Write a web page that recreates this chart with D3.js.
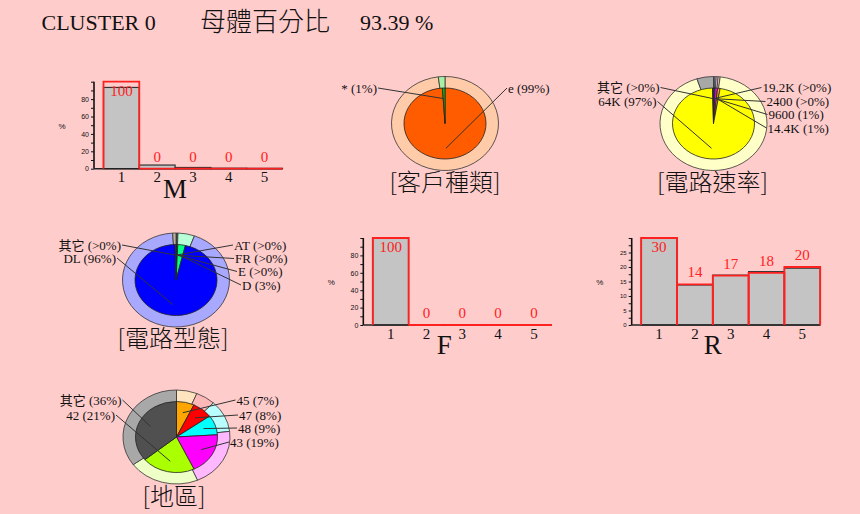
<!DOCTYPE html>
<html><head><meta charset="utf-8">
<script src="https://cdn.jsdelivr.net/npm/d3@7"></script>
<style>
body{margin:0;background:#FFCCCC;}
svg{display:block}
</style>
</head><body>
<svg id="c" width="860" height="514"></svg>
<script>
// ---------------- DATA ----------------
const titleParts = ["CLUSTER 0", "母體百分比", "93.39 %"];

const barCategories = ["1", "2", "3", "4", "5"];
const mCluster = [100, 0, 0, 0, 0];
const mParent  = [93.4, 4.2, 1.4, 0.6, 0.4];
const fCluster = [100, 0, 0, 0, 0];
const fParent  = [100, 0, 0, 0, 0];
const rCluster = [30, 14, 17, 18, 20];
const rParent  = [30, 13.8, 17.2, 18.4, 19.6];
const pctTicks = [0, 20, 40, 60, 80];
const pctMinor = [10, 30, 50, 70, 90, 100];
const rTicks = [0, 5, 10, 15, 20, 25];
const rMinor = [2.5, 7.5, 12.5, 17.5, 22.5, 27.5, 30];

const custCats    = ["e", "*"];
const custCluster = [99, 1];
const custParent  = [98, 2];

const speedCats    = ["19.2K", "2400", "9600", "14.4K", "64K", "其它"];
const speedCluster = [0.3, 0.3, 1, 1, 97, 0.4];
const speedParent  = [0.4, 0.4, 0.6, 0.6, 93, 5];

const typeCats    = ["AT", "FR", "E", "D", "DL", "其它"];
const typeCluster = [0.2, 0.2, 0.3, 3, 96, 0.3];
const typeParent  = [0.2, 0.2, 0.2, 5, 93.4, 1];

const areaCats    = ["45", "47", "48", "43", "42", "其它"];
const areaCluster = [7, 8, 9, 19, 21, 36];
const areaParent  = [6.2, 5.9, 11, 20.5, 21.4, 35];

// ---------------- STYLE / LAYOUT ----------------
const SERIF = "'Liberation Serif','Times New Roman','Noto Sans CJK TC',serif";
const CJK = "'Noto Sans CJK TC','Noto Sans CJK SC',sans-serif";
const RED = "#FF2020";

const custStyle  = {inner: ["#FF5C00", "#00C800"], outer: ["#FFCBA8", "#A8F0A8"]};
const speedStyle = {inner: ["#FF0000", "#00FFFF", "#FF00FF", "#FFA000", "#FFFF00", "#808080"],
                    outer: ["#FFB8B8", "#B8FFFF", "#FFB8FF", "#FFE0B0", "#FFFFC8", "#A8A8A8"]};
const typeStyle  = {inner: ["#FFA000", "#FF0000", "#00FFFF", "#00FF80", "#0000FF", "#907050"],
                    outer: ["#FFE0B0", "#FFB8B8", "#B8FFFF", "#B8FFD8", "#A8A8FF", "#C0B0A0"]};
const areaStyle  = {inner: ["#FFA500", "#FF0000", "#00FFFF", "#FF00FF", "#AAFF00", "#505050"],
                    outer: ["#FFE4C0", "#FFB8B8", "#B8FFFF", "#FFB8FF", "#EEFFC8", "#A8A8A8"]};

// label offsets relative to the pie centre (one per slice, same order)
const custLabelPos  = [[63, -35.5], [-68, -35.5]];
const speedLabelPos = [[49, -36], [53, -22], [55, -9], [54, 4.5], [-57, -22], [-54, -36]];
const typeLabelPos  = [[58, -35], [59, -21.5], [62, -8.5], [66, 5], [-60, -22], [-55, -35]];
const areaLabelPos  = [[60, -37], [62.5, -22], [61.5, -9], [53.5, 5], [-61.5, -22], [-55, -37]];

const svg = d3.select("#c");
svg.append("rect").attr("x", 0).attr("y", 0).attr("width", 860).attr("height", 514).attr("fill", "#FFCCCC");

// ---------------- TITLE ----------------
svg.append("text").attr("x", 41.5).attr("y", 29.5).attr("font-family", SERIF).attr("font-size", 22)
  .attr("fill", "#111").text(titleParts[0]);
svg.append("text").attr("x", 200).attr("y", 30.5).attr("font-family", CJK).attr("font-size", 26)
  .attr("font-weight", 300).attr("fill", "#111").text(titleParts[1]);
svg.append("text").attr("x", 360).attr("y", 29.5).attr("font-family", SERIF).attr("font-size", 22)
  .attr("fill", "#111").text(titleParts[2]);

// ---------------- BAR CHARTS ----------------
function drawBars(cfg) {
  const g = svg.append("g");
  const band = 35.8, h = 87;
  const x0 = cfg.ax + 9.5;
  const x = d3.scaleBand().domain(barCategories).range([x0, x0 + band * barCategories.length]).padding(0);
  const y = d3.scaleLinear().domain([0, cfg.max]).range([cfg.base, cfg.base - h]);

  // parent (gray) bars
  g.selectAll("rect.par").data(cfg.parent).join("rect")
    .attr("x", (d, i) => x(barCategories[i]))
    .attr("y", d => y(d))
    .attr("width", x.bandwidth())
    .attr("height", d => cfg.base - y(d))
    .attr("fill", "#C4C4C4").attr("stroke", "#333").attr("stroke-width", 1.2);

  // y axis
  const ya = d3.axisLeft(y).tickValues(cfg.ticks).tickSize(3).tickPadding(2);
  const yg = g.append("g").attr("transform", `translate(${cfg.ax},0)`).call(ya);
  yg.select(".domain").remove();
  yg.selectAll("line").attr("stroke", "#111");
  yg.selectAll("text").attr("font-family", "'Liberation Sans',Arial,sans-serif")
    .attr("font-size", cfg.tickFont).attr("fill", "#111");
  const ym = d3.axisLeft(y).tickValues(cfg.minor).tickSize(3).tickFormat("");
  const ymg = g.append("g").attr("transform", `translate(${cfg.ax},0)`).call(ym);
  ymg.select(".domain").remove();
  ymg.selectAll("line").attr("stroke", "#111");

  g.append("line").attr("x1", cfg.ax).attr("x2", cfg.ax).attr("y1", cfg.base).attr("y2", y(cfg.max))
    .attr("stroke", "#111").attr("stroke-width", 1.6);
  g.append("line").attr("x1", cfg.ax).attr("x2", x0 + band * barCategories.length)
    .attr("y1", cfg.base).attr("y2", cfg.base).attr("stroke", "#222").attr("stroke-width", 1.6);

  // cluster (red outline) bars
  g.selectAll("path.clu").data(cfg.cluster).join("path")
    .attr("d", (d, i) => {
      const a = x(barCategories[i]), b = a + x.bandwidth();
      return `M${a},${cfg.base}V${y(d)}H${b}V${cfg.base}`;
    })
    .attr("fill", "none").attr("stroke", RED).attr("stroke-width", 1.8);

  // value labels
  g.selectAll("text.val").data(cfg.cluster).join("text")
    .attr("x", (d, i) => x(barCategories[i]) + x.bandwidth() / 2)
    .attr("y", d => Math.max(y(d) - 12.3, y(cfg.max) + 9))
    .attr("dy", "0.35em").attr("text-anchor", "middle")
    .attr("font-family", SERIF).attr("font-size", 15).attr("fill", RED)
    .text(d => d3.format("d")(d));

  // x tick labels
  g.selectAll("text.xt").data(barCategories).join("text")
    .attr("x", d => x(d) + x.bandwidth() / 2)
    .attr("y", cfg.base + 8.5).attr("dy", "0.35em").attr("text-anchor", "middle")
    .attr("font-family", SERIF).attr("font-size", 15).attr("fill", "#111").text(d => d);

  // axis title
  g.append("text").attr("x", x0 + band * 2.5 - 18).attr("y", cfg.base + 29)
    .attr("text-anchor", "middle").attr("font-family", SERIF).attr("font-size", 27)
    .attr("fill", "#111").text(cfg.name);
  // % label
  g.append("text").attr("x", cfg.ax - 32).attr("y", cfg.base - h / 2 + 1).attr("dy", "0.35em")
    .attr("text-anchor", "middle").attr("font-family", "'Liberation Sans',Arial,sans-serif")
    .attr("font-size", 8).attr("fill", "#111").text("%");
}

drawBars({name: "M", ax: 94, base: 168.7, max: 100, cluster: mCluster, parent: mParent,
          ticks: pctTicks, minor: pctMinor, tickFont: 7});
drawBars({name: "F", ax: 363.3, base: 325, max: 100, cluster: fCluster, parent: fParent,
          ticks: pctTicks, minor: pctMinor, tickFont: 7});
drawBars({name: "R", ax: 631.7, base: 325, max: 30, cluster: rCluster, parent: rParent,
          ticks: rTicks, minor: rMinor, tickFont: 6});

// ---------------- PIE CHARTS ----------------
const RXI = 41, RYI = 35.5, RXO = 53.5, RYO = 47;
function pctText(v) { return v < 0.5 ? ">0%" : Math.round(v) + "%"; }

function drawPie(cfg) {
  const g = svg.append("g").attr("transform", `translate(${cfg.cx},${cfg.cy})`);
  const pie = d3.pie().sort(null).value(d => d).startAngle(0).endAngle(2 * Math.PI);

  const og = g.append("g").attr("transform", `scale(1,${RYO / RXO})`);
  og.selectAll("path").data(pie(cfg.parent)).join("path")
    .attr("d", d3.arc().innerRadius(0).outerRadius(RXO))
    .attr("fill", (d, i) => cfg.style.outer[i])
    .attr("stroke", "#333").attr("stroke-width", 0.8).attr("vector-effect", "non-scaling-stroke");

  const ig = g.append("g").attr("transform", `scale(1,${RYI / RXI})`);
  const arcs = pie(cfg.cluster);
  ig.selectAll("path").data(arcs).join("path")
    .attr("d", d3.arc().innerRadius(0).outerRadius(RXI))
    .attr("fill", (d, i) => cfg.style.inner[i])
    .attr("stroke", "#222").attr("stroke-width", 0.8).attr("vector-effect", "non-scaling-stroke");

  // leader lines + labels
  arcs.forEach((a, i) => {
    const mid = (a.startAngle + a.endAngle) / 2;
    const px = 0.7 * RXI * Math.sin(mid), py = -0.7 * RYI * Math.cos(mid);
    const [lx, ly] = cfg.labels[i];
    const right = lx > 0;
    g.append("line").attr("x1", lx + (right ? -1 : 1)).attr("y1", ly).attr("x2", px).attr("y2", py)
      .attr("stroke", "#333").attr("stroke-width", 1);
    g.append("text").attr("x", lx).attr("y", ly).attr("dy", "0.35em")
      .attr("text-anchor", right ? "start" : "end")
      .attr("font-family", SERIF).attr("font-size", 13).attr("fill", "#111")
      .text(`${cfg.cats[i]} (${pctText(cfg.cluster[i])})`);
  });

  g.append("text").attr("x", cfg.titleDx).attr("y", cfg.titleDy).attr("text-anchor", "middle")
    .attr("font-family", CJK).attr("font-size", 24).attr("font-weight", 300)
    .attr("fill", "#111").text(cfg.title);
}

drawPie({cx: 445, cy: 123.5, cats: custCats, cluster: custCluster, parent: custParent,
         style: custStyle, labels: custLabelPos, title: "[客戶種類]", titleDx: 0, titleDy: 67});
drawPie({cx: 713.5, cy: 123.5, cats: speedCats, cluster: speedCluster, parent: speedParent,
         style: speedStyle, labels: speedLabelPos, title: "[電路速率]", titleDx: -1, titleDy: 67});
drawPie({cx: 176, cy: 280, cats: typeCats, cluster: typeCluster, parent: typeParent,
         style: typeStyle, labels: typeLabelPos, title: "[電路型態]", titleDx: -3, titleDy: 67});
drawPie({cx: 176.5, cy: 437, cats: areaCats, cluster: areaCluster, parent: areaParent,
         style: areaStyle, labels: areaLabelPos, title: "[地區]", titleDx: -2.5, titleDy: 68});
</script>
</body></html>
